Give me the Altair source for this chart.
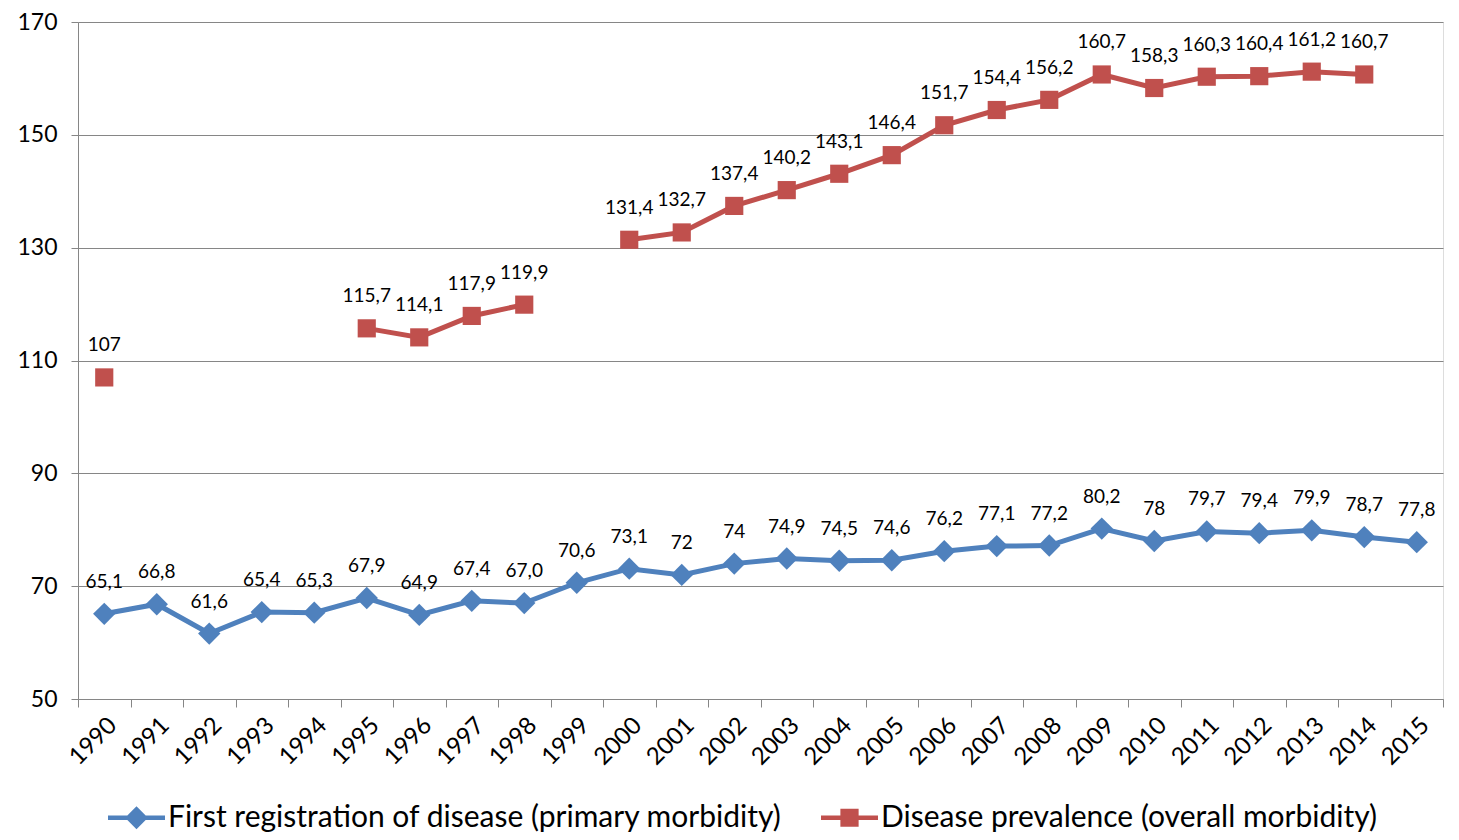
import altair as alt
import pandas as pd

years = [str(y) for y in range(1990, 2016)]
primary = [65.1, 66.8, 61.6, 65.4, 65.3, 67.9, 64.9, 67.4, 67.0, 70.6, 73.1, 72, 74,
           74.9, 74.5, 74.6, 76.2, 77.1, 77.2, 80.2, 78, 79.7, 79.4, 79.9, 78.7, 77.8]
primary_labels = ["65,1", "66,8", "61,6", "65,4", "65,3", "67,9", "64,9", "67,4", "67,0",
                  "70,6", "73,1", "72", "74", "74,9", "74,5", "74,6", "76,2", "77,1",
                  "77,2", "80,2", "78", "79,7", "79,4", "79,9", "78,7", "77,8"]
overall = [107, None, None, None, None, 115.7, 114.1, 117.9, 119.9, None, 131.4, 132.7,
           137.4, 140.2, 143.1, 146.4, 151.7, 154.4, 156.2, 160.7, 158.3, 160.3, 160.4,
           161.2, 160.7, None]
overall_labels = ["107", "", "", "", "", "115,7", "114,1", "117,9", "119,9", "", "131,4",
                  "132,7", "137,4", "140,2", "143,1", "146,4", "151,7", "154,4", "156,2",
                  "160,7", "158,3", "160,3", "160,4", "161,2", "160,7", ""]
y_ticks = [50, 70, 90, 110, 130, 150, 170]

s1 = "First registration of disease (primary morbidity)"
s2 = "Disease prevalence (overall morbidity)"
colors = ["#4F81BD", "#C0504D"]

df = pd.concat([
    pd.DataFrame({"year": years, "value": primary, "label": primary_labels, "series": s1}),
    pd.DataFrame({"year": years, "value": overall, "label": overall_labels, "series": s2}),
], ignore_index=True)

FONT = "Lato"

x = alt.X("year:O", sort=years, title=None,
          scale=alt.Scale(type="band", paddingInner=0, paddingOuter=0),
          axis=alt.Axis(labelAngle=-45, labelFontSize=24, labelColor="#000000",
                        tickBand="extent", tickSize=8, tickColor="#868686",
                        domainColor="#868686", labelPadding=6, grid=False))
y = alt.Y("value:Q", title=None,
          scale=alt.Scale(domain=[50, 170], nice=False, zero=False),
          axis=alt.Axis(values=y_ticks, labelFontSize=23, labelColor="#000000",
                        tickSize=7, tickColor="#868686", domainColor="#868686",
                        gridColor="#868686", gridWidth=1.2, labelPadding=14))
color_scale = alt.Scale(domain=[s1, s2], range=colors)
legend = alt.Legend(orient="none", legendX=30, legendY=767, direction="horizontal",
                    labelFontSize=30, labelFont=FONT,
                    labelColor="#000000", symbolSize=3249,
                    symbolStrokeWidth=0, columnPadding=38,
                    labelOffset=3, labelLimit=900)
color = alt.Color("series:N", scale=color_scale, title=None, legend=legend)

sym_blue = "M-1,-0.08L1,-0.08L1,0.08L-1,0.08Z M0,-0.4L0.4,0L0,0.4L-0.4,0Z"
sym_red = "M-1,-0.08L1,-0.08L1,0.08L-1,0.08Z M-0.32,-0.32L0.32,-0.32L0.32,0.32L-0.32,0.32Z"

base = alt.Chart(df)

legend_layer = base.transform_filter("false").mark_point(
    filled=True, opacity=1, size=3249, strokeWidth=0).encode(
    x=x, y=y, color=color,
    shape=alt.Shape("series:N", title=None, legend=legend,
                    scale=alt.Scale(domain=[s1, s2], range=[sym_blue, sym_red])))

lines = base.mark_line(strokeWidth=5).encode(x=x, y=y, color=color, detail="series:N")

valid = "isValid(datum.value)"
pts1 = base.transform_filter(f"datum.series == '{s1}' && {valid}").mark_point(
    shape="diamond", filled=True, opacity=1, size=500).encode(x=x, y=y, color=color)
pts2 = base.transform_filter(f"datum.series == '{s2}' && {valid}").mark_point(
    shape="square", filled=True, opacity=1, size=330).encode(x=x, y=y, color=color)

texts = base.transform_filter(valid).mark_text(
    dy=-32, fontSize=19, font=FONT, color="#000000").encode(
    x=x, y=y, text="label:N")

chart = alt.layer(legend_layer, lines, pts1, pts2, texts).properties(
    width=1365, height=677,
    autosize=alt.AutoSizeParams(type="none"),
    padding={"left": 70, "top": 14, "right": 4, "bottom": 140},
).configure_axis(labelFont=FONT).configure_view(stroke=None).configure(font=FONT)

chart.save("out.html", embed_options={"renderer": "svg", "actions": False})
